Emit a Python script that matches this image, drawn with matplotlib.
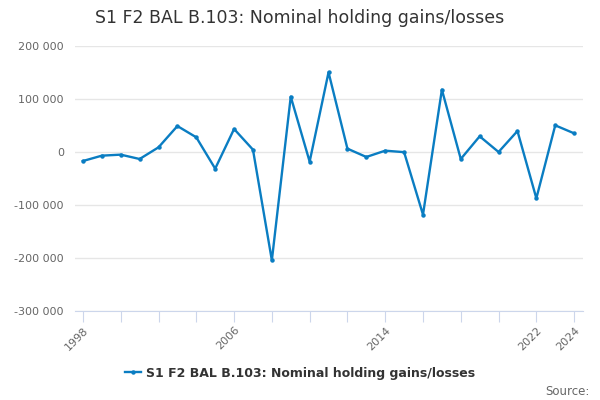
import matplotlib
matplotlib.use("Agg")
import matplotlib.pyplot as plt
from matplotlib.ticker import FuncFormatter, FixedLocator

years = list(range(1998, 2025))
values = [
    -17000, -6900, -5000, -13200, 8800, 49000, 27700, -31400, 43400, 4400,
    -204400, 104400, -18200, 150300, 6300, -9400, 2500, -300, -118200, 117600,
    -13200, 29600, 0, 39600, -87400, 50300, 35200,
]
series_name = "S1 F2 BAL B.103: Nominal holding gains/losses"
labelled_years = [1998, 2006, 2014, 2022, 2024]

line_color = "#0a7dc2"
axis_color = "#ccd6eb"
grid_color = "#e6e6e6"
text_color = "#666666"

fig = plt.figure(figsize=(6, 4), dpi=100)
ax = fig.add_axes([0.125, 0.2225, 0.847, 0.6625])

ax.plot(years, values, color=line_color, lw=1.7, marker="o", ms=2.2,
        label=series_name)

ax.set_xlim(1997.58, 2024.48)
ax.set_ylim(-300000, 200000)
ax.set_yticks(range(-300000, 200001, 100000))
ax.yaxis.set_major_formatter(
    FuncFormatter(lambda v, p: f"{int(v):,}".replace(",", " ")))

even_years = [y for y in years if y % 2 == 0]
ax.xaxis.set_major_locator(FixedLocator(even_years))
ax.set_xticklabels([str(y) if y in labelled_years else "" for y in even_years],
                   rotation=45, ha="right", rotation_mode="anchor")

ax.grid(axis="y", color=grid_color, lw=1)
ax.set_axisbelow(True)
for s in ["top", "right", "left"]:
    ax.spines[s].set_visible(False)
ax.spines["bottom"].set_color(axis_color)
ax.tick_params(axis="y", length=0, labelsize=8, labelcolor=text_color, pad=8)
ax.tick_params(axis="x", length=8, color=axis_color, labelsize=8,
               labelcolor=text_color, pad=2)

fig.text(0.5, 0.955, series_name, ha="center", va="center", fontsize=12.5,
         color="#333333")

leg = fig.legend(loc="center", bbox_to_anchor=(0.5, 0.067), frameon=False,
                 handlelength=1.3, handletextpad=0.4, fontsize=9)
for t in leg.get_texts():
    t.set_fontweight("bold")
    t.set_color("#333333")

fig.text(0.982, 0.022, "Source:", ha="right", va="center", fontsize=8.5,
         color=text_color)

fig.savefig("out.png", dpi=100)
